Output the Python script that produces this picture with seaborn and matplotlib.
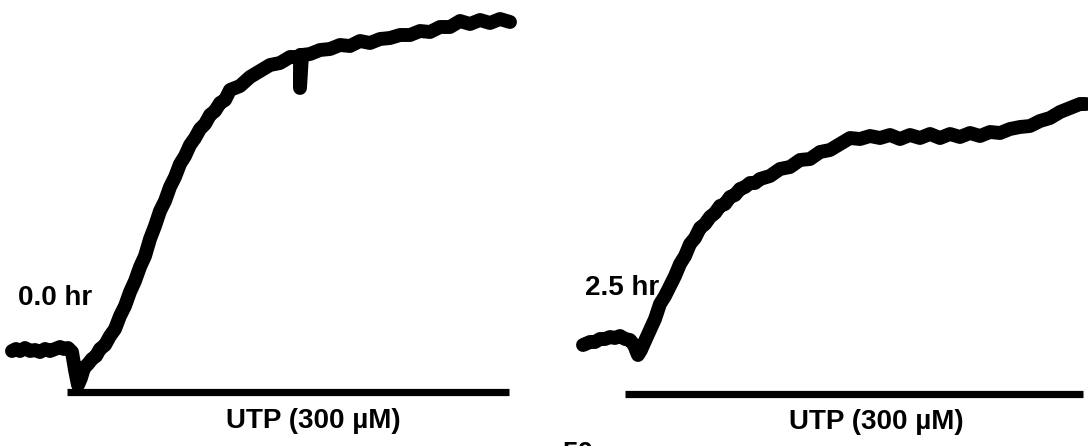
import numpy as np
import pandas as pd
import matplotlib
matplotlib.use("Agg")
import matplotlib.pyplot as plt
import seaborn as sns

# ---- data (x = time position, y = signal, screen-down units) ----
t0_x = [12, 16, 20, 25, 30, 35, 40, 45, 50, 55, 60, 64, 68, 72, 75, 78, 81, 84, 88, 92,
        96, 100, 105, 110, 115, 120, 125, 130, 135, 140, 145, 150, 155, 160, 165, 170,
        175, 180, 185, 190, 195, 200, 205, 210, 215, 220, 225, 230, 240, 250, 260, 270,
        280, 290, 298, 300, 300, 302, 310, 320, 330, 340, 350, 360, 370, 380, 390, 400,
        410, 420, 430, 440, 450, 460, 470, 480, 490, 500, 510]
t0_y = [351, 349, 351, 348, 351, 350, 352, 349, 351, 349, 347, 349, 348, 352, 370, 385,
        378, 368, 364, 359, 356, 349, 345, 336, 329, 316, 306, 292, 281, 267, 256, 239,
        226, 211, 201, 187, 177, 164, 156, 145, 138, 129, 124, 115, 111, 103, 100, 90,
        86, 77, 71, 65, 63, 57, 57, 55, 88, 55, 54, 50, 49, 45, 46, 41, 43, 39, 38, 35,
        35, 31, 32, 27, 27, 21, 24, 20, 23, 19, 22]

t25_x = [583, 590, 595, 600, 605, 610, 615, 620, 625, 630, 634, 638, 641, 645, 650, 655,
         660, 665, 670, 675, 680, 685, 690, 695, 700, 705, 710, 715, 720, 725, 730, 735,
         740, 745, 750, 755, 760, 770, 780, 790, 800, 810, 820, 830, 840, 850, 860, 870,
         880, 890, 900, 910, 920, 930, 940, 950, 960, 970, 980, 990, 1000, 1010, 1020,
         1030, 1040, 1050, 1060, 1070, 1080, 1086]
t25_y = [345, 342, 342, 339, 339, 337, 338, 336, 339, 340, 345, 355, 350, 341, 330, 319,
         304, 296, 286, 276, 264, 256, 244, 238, 228, 224, 217, 213, 206, 204, 197, 195,
         189, 187, 183, 183, 179, 176, 169, 167, 160, 159, 152, 150, 144, 138, 139, 136,
         138, 135, 139, 135, 138, 134, 138, 134, 137, 133, 136, 132, 133, 129, 127, 126,
         121, 118, 112, 108, 104, 104]

trace_labels = ["0.0 hr", "2.5 hr"]
bar_start = [67, 625]
bar_end = [509, 1083]
bar_y = [392, 394]
bar_label = "UTP (300 µM)"
scale_label = "50"

df = pd.DataFrame({
    "x": t0_x + t25_x,
    "y": t0_y + t25_y,
    "trace": [trace_labels[0]] * len(t0_x) + [trace_labels[1]] * len(t25_x),
})

sns.set_style("white")
plt.rcParams["font.family"] = ["Liberation Sans", "DejaVu Sans"]
plt.rcParams["text.color"] = "black"

fig = plt.figure(figsize=(10.88, 4.46), dpi=100)
ax = fig.add_axes([0, 0, 1, 1])

sns.lineplot(data=df, x="x", y="y", units="trace", estimator=None, sort=False,
             color="black", linewidth=10, ax=ax, legend=False,
             solid_capstyle="round", solid_joinstyle="round")

for xs, xe, yb in zip(bar_start, bar_end, bar_y):
    ax.plot([xs, xe], [yb, yb], color="black", linewidth=5.2, solid_capstyle="butt")

ax.set_xlim(0, 1088)
ax.set_ylim(446, 0)
ax.axis("off")

fs = 20
kw = dict(fontsize=fs, fontweight="bold", color="black")
ax.text(18, 298, trace_labels[0], ha="left", va="center", **kw)
ax.text(585, 288, trace_labels[1], ha="left", va="center", **kw)
ax.text(313, 421, bar_label, ha="center", va="center", **kw)
ax.text(876, 422, bar_label, ha="center", va="center", **kw)
ax.text(562, 441, scale_label, ha="left", va="top", **kw)

fig.savefig("out.png", dpi=100, facecolor="white")
